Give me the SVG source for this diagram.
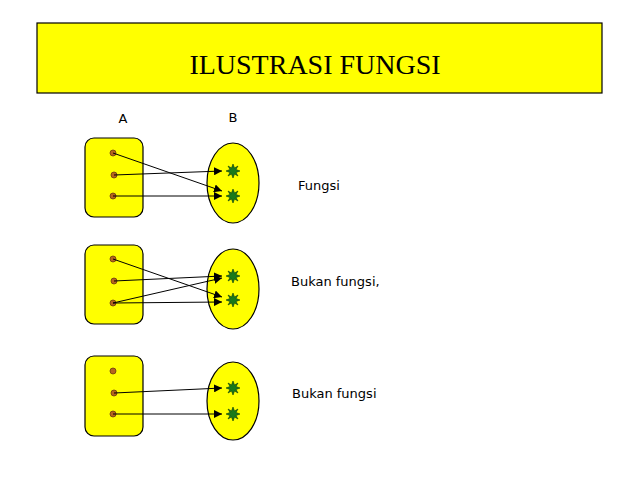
<svg xmlns="http://www.w3.org/2000/svg" width="638" height="479" viewBox="0 0 638 479">
<style>
.box{fill:#ffff00;stroke:#000;stroke-width:1.2}
.dot{fill:#b5651d;stroke:#6b3a10;stroke-width:0.8}
.star{fill:#1a7a1a;stroke:#0a3a0a;stroke-width:0.6}
.arr{stroke:#000;stroke-width:1;fill:none;marker-end:url(#ah)}
.t{font-family:"DejaVu Sans",sans-serif;font-size:13px;fill:#000}
</style>
<defs>
<marker id="ah" viewBox="0 0 10 10" refX="10" refY="5" markerWidth="8" markerHeight="8" markerUnits="userSpaceOnUse" orient="auto"><path d="M0,0 L10,5 L0,10 z" fill="#000"/></marker>
<polygon id="st" class="star" points="0,-7 1.5,-3 5,-5 3,-1.5 7,0 3,1.5 5,5 1.5,3 0,7 -1.5,3 -5,5 -3,1.5 -7,0 -3,-1.5 -5,-5 -1.5,-3"/>
</defs>
<rect width="638" height="479" fill="#fff"/>
<g id="title"><rect x="37" y="23" width="565" height="70" class="box"/>
<text x="315" y="74" text-anchor="middle" font-family="Liberation Serif,serif" font-size="28">ILUSTRASI FUNGSI</text></g>
<text class="t" x="123" y="123" font-size="14" text-anchor="middle">A</text>
<text class="t" x="233" y="122" font-size="14" text-anchor="middle">B</text>
<g id="A1"><rect x="85" y="138" width="58" height="79" rx="9" class="box"/>
<circle class="dot" cx="113" cy="153" r="3"/><circle class="dot" cx="114" cy="175" r="3"/><circle class="dot" cx="113" cy="196" r="3"/></g>
<g id="B1"><ellipse cx="233" cy="183" rx="26" ry="40" class="box"/><use href="#st" x="233" y="171"/><use href="#st" x="233" y="196"/></g>
<g id="A2"><rect x="85" y="245" width="58" height="79" rx="9" class="box"/>
<circle class="dot" cx="113" cy="259" r="3"/><circle class="dot" cx="114" cy="281" r="3"/><circle class="dot" cx="113" cy="303" r="3"/></g>
<g id="B2"><ellipse cx="233" cy="289" rx="26" ry="40" class="box"/><use href="#st" x="233" y="276"/><use href="#st" x="233" y="300"/></g>
<g id="A3"><rect x="85" y="356" width="58" height="80" rx="9" class="box"/>
<circle class="dot" cx="113" cy="371" r="3"/><circle class="dot" cx="114" cy="393" r="3"/><circle class="dot" cx="113" cy="414" r="3"/></g>
<g id="B3"><ellipse cx="233" cy="401" rx="26" ry="39" class="box"/><use href="#st" x="233" y="388"/><use href="#st" x="233" y="414"/></g>
<g id="connectors">
<line class="arr" x1="113" y1="153" x2="222" y2="191"/>
<line class="arr" x1="114" y1="175" x2="222" y2="171"/>
<line class="arr" x1="113" y1="196" x2="222" y2="196"/>
<line class="arr" x1="113" y1="259" x2="222" y2="297"/>
<line class="arr" x1="114" y1="281" x2="222" y2="276"/>
<line class="arr" x1="113" y1="303" x2="222" y2="278"/>
<line class="arr" x1="113" y1="303" x2="222" y2="302"/>
<line class="arr" x1="114" y1="393" x2="222" y2="388"/>
<line class="arr" x1="113" y1="414" x2="222" y2="414"/>
</g>
<text class="t" x="298" y="190">Fungsi</text>
<text class="t" x="291" y="286">Bukan fungsi,</text>
<text class="t" x="292" y="398">Bukan fungsi</text>
</svg>
